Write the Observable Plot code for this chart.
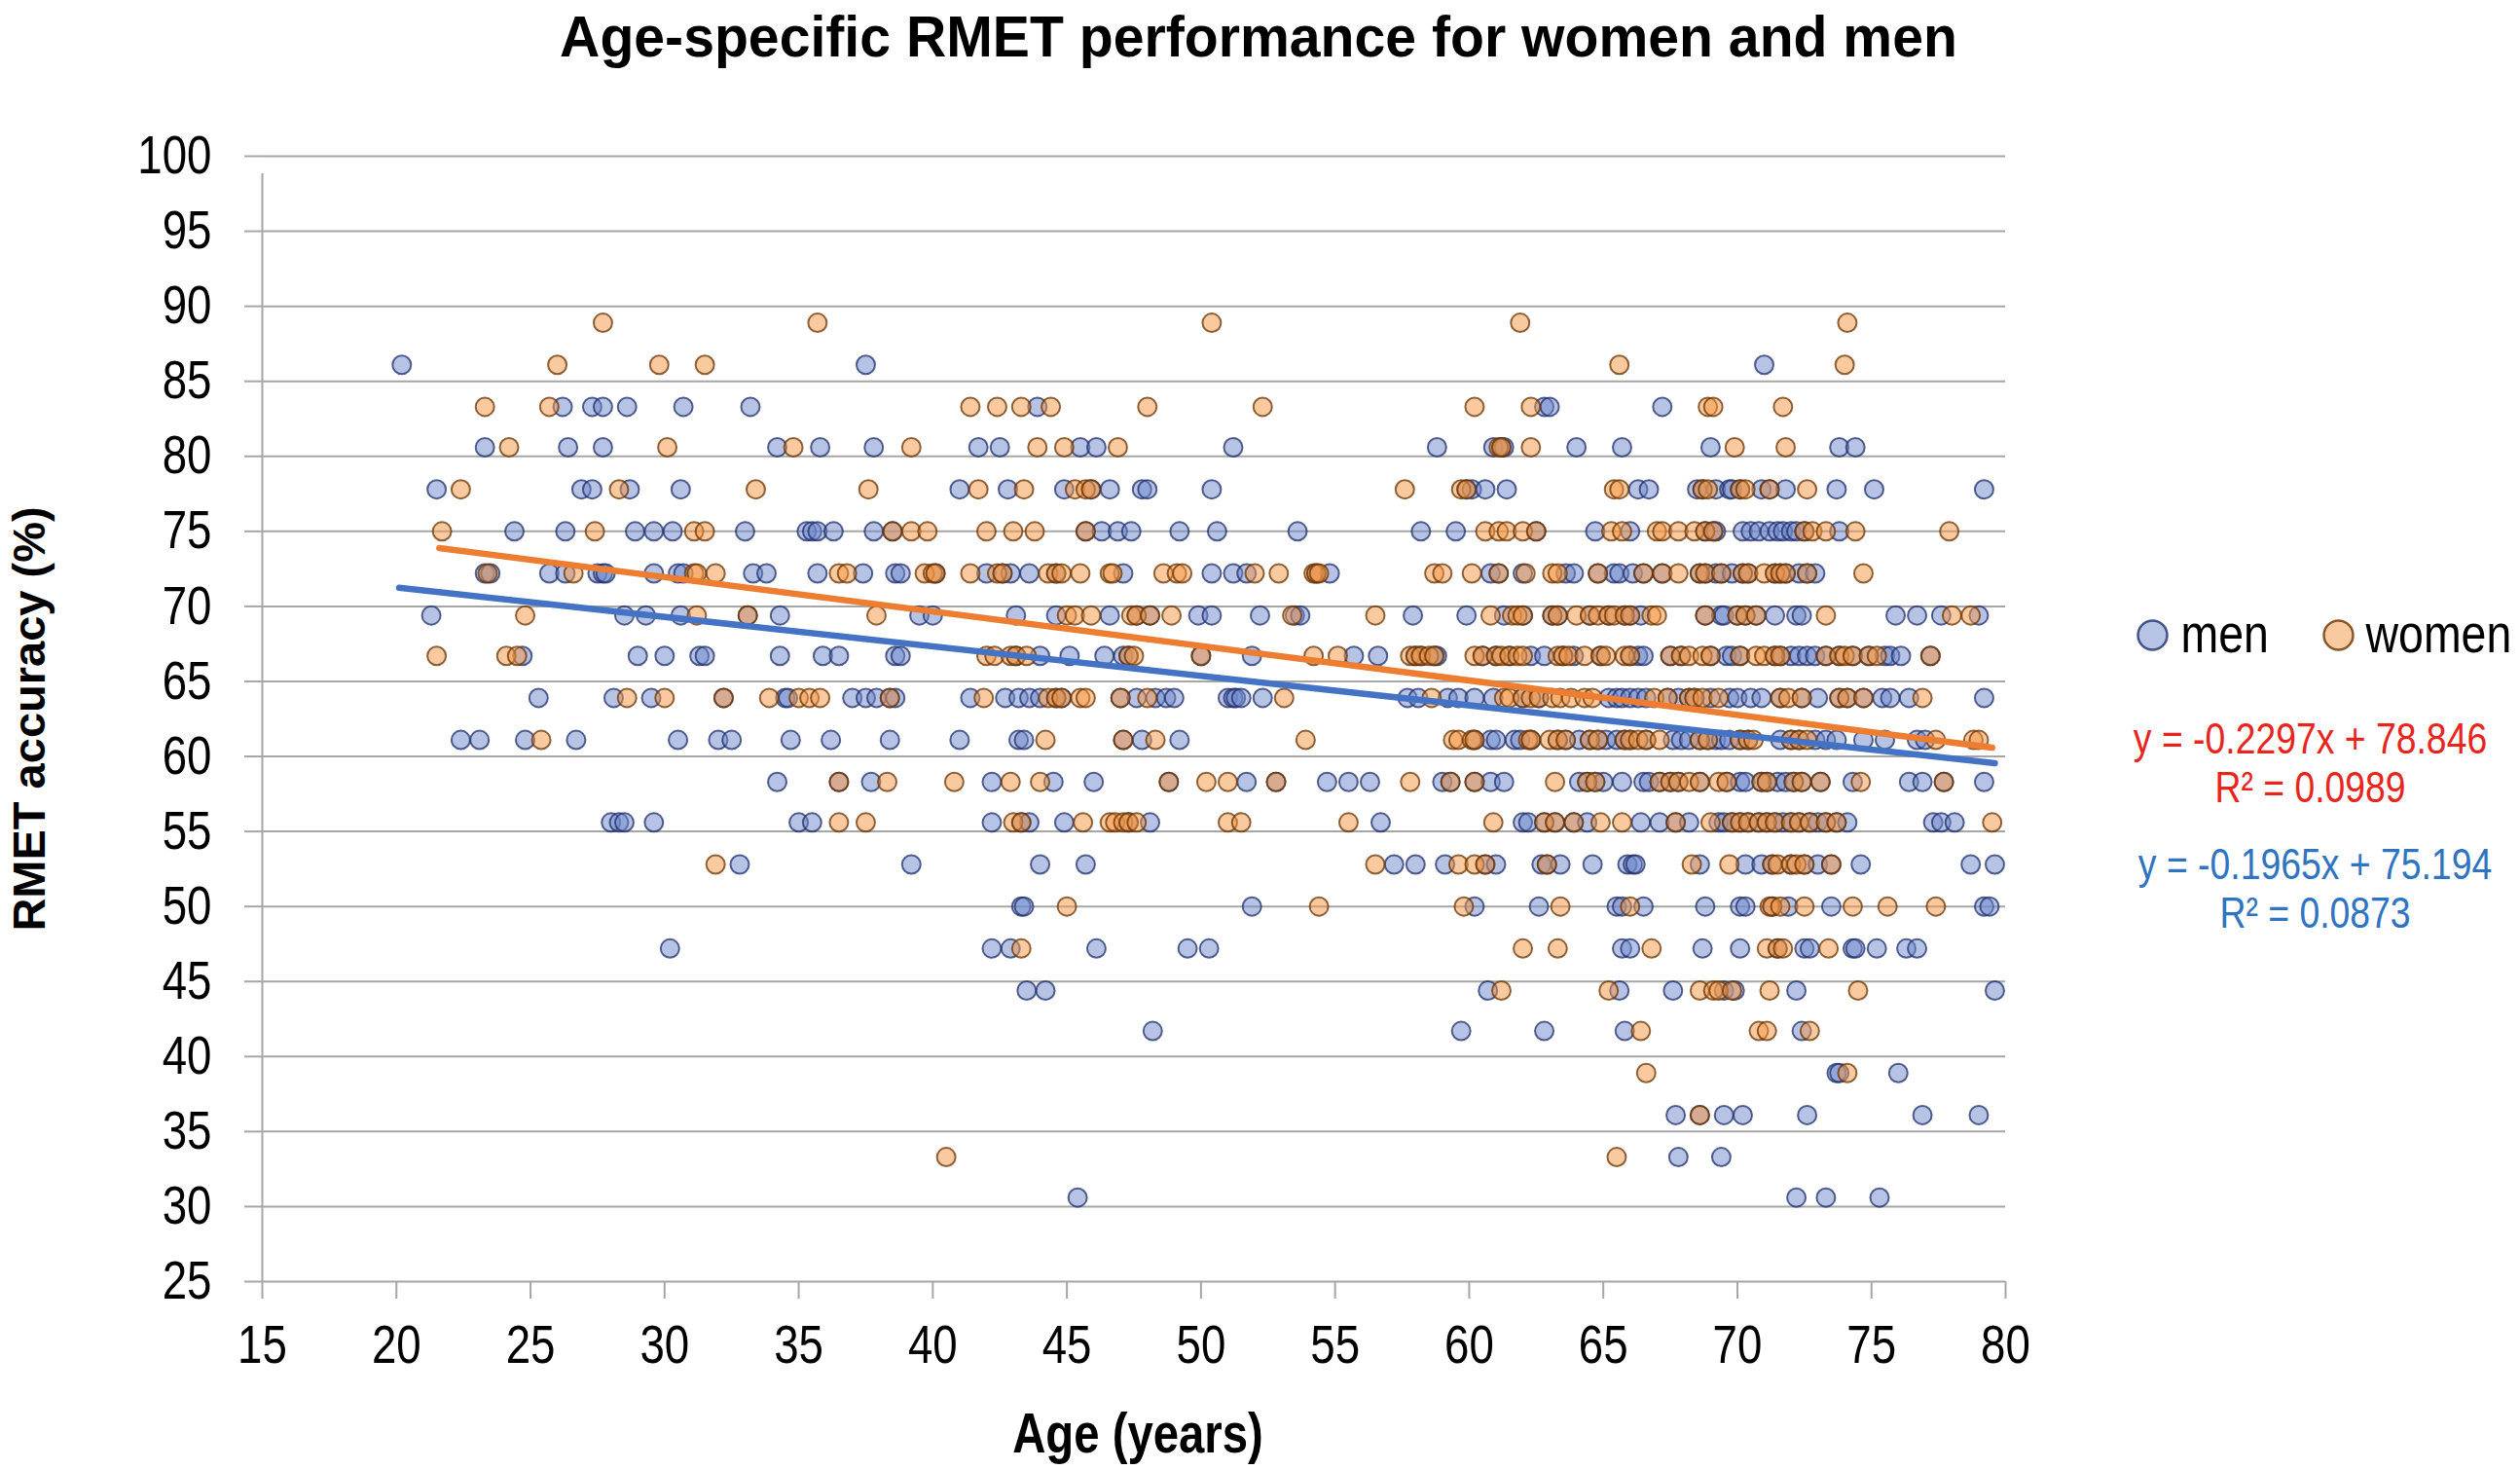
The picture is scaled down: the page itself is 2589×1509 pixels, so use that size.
<!DOCTYPE html>
<html>
<head>
<meta charset="utf-8">
<script src="https://cdn.jsdelivr.net/npm/d3@7"></script>
<script src="https://cdn.jsdelivr.net/npm/@observablehq/plot@0.6"></script>
<style>
  html, body { margin: 0; padding: 0; background: #fff; }
  #chart svg { display: block; }
</style>
</head>
<body>
<div id="chart"></div>
<script>
// RMET accuracy levels (36 items → steps of 2.78 %)
const accLevels = [88.9, 86.1, 83.3, 80.6, 77.8, 75.0, 72.2, 69.4, 66.7, 63.9, 61.1, 58.3, 55.6, 52.8, 50.0, 47.2, 44.4, 41.7, 38.9, 36.1, 33.3, 30.6];

// ages of men at each accuracy level (same order as accLevels)
const menAgesByLevel = [
  [],
  [20.2, 37.5, 71.0],
  [26.2, 27.3, 27.7, 28.6, 30.7, 33.2, 43.9, 62.8, 63.0, 67.2],
  [23.3, 26.4, 27.7, 34.2, 35.8, 37.8, 41.7, 42.5, 45.5, 46.1, 51.2, 58.8, 60.9, 61.2, 61.3, 64.0, 65.7, 69.0, 73.8, 74.4],
  [21.5, 26.9, 27.3, 28.7, 30.6, 41.0, 42.8, 44.9, 45.9, 46.6, 47.8, 48.0, 50.4, 59.9, 60.1, 60.6, 61.4, 66.3, 66.7, 68.5, 68.7, 69.2, 69.7, 69.8, 70.1, 70.9, 71.2, 71.8, 73.7, 75.1, 79.2],
  [24.4, 26.3, 28.9, 29.6, 30.3, 33.0, 35.3, 35.5, 35.7, 36.3, 37.8, 38.5, 45.7, 46.3, 46.9, 47.4, 49.2, 50.6, 53.6, 58.2, 59.5, 62.5, 64.7, 66.0, 68.8, 69.1, 69.2, 70.2, 70.5, 70.8, 71.2, 71.5, 71.7, 72.0, 72.2, 72.5, 73.8],
  [23.3, 23.5, 25.7, 26.3, 27.5, 27.7, 27.8, 29.6, 30.5, 30.7, 33.3, 33.8, 35.7, 37.4, 38.6, 38.8, 40.1, 42.0, 42.6, 42.9, 43.6, 44.6, 47.1, 50.4, 51.2, 51.7, 54.3, 54.8, 60.8, 61.1, 62.0, 63.6, 63.9, 64.8, 65.4, 65.6, 66.1, 66.5, 67.2, 68.6, 68.8, 69.2, 69.4, 69.8, 70.2, 70.4, 71.4, 71.6, 71.8, 72.3, 72.6, 72.9],
  [21.3, 28.5, 29.3, 30.6, 33.1, 34.3, 39.5, 40.0, 43.1, 44.6, 46.6, 47.6, 48.1, 49.9, 50.4, 52.2, 53.5, 53.7, 57.9, 59.9, 61.3, 62.0, 63.1, 63.3, 64.5, 65.2, 65.8, 66.0, 66.4, 68.8, 69.4, 69.5, 70.0, 70.3, 70.7, 71.4, 72.2, 72.4, 75.9, 76.7, 77.6, 79.0],
  [24.7, 29.0, 30.0, 31.3, 31.5, 34.3, 35.9, 36.5, 38.6, 38.8, 43.1, 44.0, 45.1, 46.4, 47.1, 47.3, 50.0, 51.9, 55.7, 56.6, 58.0, 58.2, 58.7, 58.8, 60.5, 61.0, 61.5, 62.3, 62.8, 63.5, 63.9, 64.9, 66.0, 66.3, 66.5, 67.5, 67.9, 69.0, 69.6, 69.8, 70.1, 71.4, 71.6, 72.0, 72.3, 72.6, 72.9, 73.3, 73.8, 74.3, 74.9, 75.5, 75.7, 76.1, 77.2],
  [25.3, 28.1, 29.5, 32.2, 34.5, 34.6, 37.0, 37.5, 37.9, 38.4, 38.6, 41.4, 42.7, 43.2, 43.6, 44.0, 44.6, 44.8, 47.0, 47.6, 48.3, 48.7, 49.0, 51.0, 51.2, 51.3, 51.5, 52.3, 57.7, 58.1, 59.2, 59.6, 60.2, 60.9, 62.0, 62.6, 65.2, 65.5, 65.7, 66.0, 66.3, 66.6, 67.4, 67.8, 68.2, 68.4, 69.0, 69.7, 70.0, 70.5, 70.9, 71.6, 72.4, 73.0, 73.8, 74.1, 74.7, 75.4, 75.7, 76.4, 79.2],
  [22.4, 23.1, 24.8, 26.7, 30.5, 32.0, 32.5, 34.7, 36.2, 38.4, 41.0, 43.2, 43.4, 47.1, 47.8, 49.2, 60.2, 60.8, 61.0, 61.7, 61.9, 62.3, 63.3, 63.6, 64.1, 64.5, 64.8, 65.1, 65.5, 65.8, 66.0, 66.6, 67.6, 67.9, 68.2, 68.6, 68.9, 69.2, 69.4, 69.7, 70.1, 70.4, 71.6, 72.0, 72.3, 72.9, 73.3, 73.7, 74.7, 75.5, 76.7, 77.0],
  [34.2, 36.5, 37.7, 42.2, 44.5, 46.0, 48.8, 51.7, 52.8, 54.7, 55.5, 56.3, 59.0, 59.3, 60.2, 60.8, 61.3, 64.1, 64.4, 64.7, 65.0, 65.7, 66.5, 66.7, 67.1, 67.5, 67.8, 68.6, 69.6, 70.1, 70.3, 70.9, 71.1, 71.5, 71.8, 72.1, 72.4, 73.1, 74.3, 76.4, 76.9, 77.7, 79.2],
  [28.0, 28.3, 28.5, 29.6, 35.0, 35.5, 42.2, 43.3, 43.6, 44.9, 47.3, 48.1, 56.7, 62.0, 62.2, 62.8, 63.2, 63.9, 64.4, 66.4, 67.1, 67.7, 68.2, 69.3, 69.5, 69.8, 70.1, 70.4, 70.8, 71.1, 71.4, 71.7, 72.0, 72.3, 72.7, 73.0, 73.3, 73.7, 74.1, 77.3, 77.6, 78.1],
  [32.8, 39.2, 44.0, 45.7, 57.2, 58.0, 59.1, 60.6, 61.0, 62.7, 62.9, 63.4, 64.6, 65.9, 66.1, 66.2, 68.6, 70.3, 70.9, 71.3, 72.0, 72.5, 73.0, 73.5, 74.6, 78.7, 79.6],
  [43.3, 43.4, 51.9, 60.2, 62.6, 65.5, 65.7, 66.5, 68.8, 70.1, 70.3, 71.3, 71.9, 73.5, 79.2, 79.4],
  [30.2, 42.2, 42.9, 46.1, 49.5, 50.3, 65.7, 66.0, 68.7, 70.1, 71.5, 72.5, 72.7, 74.3, 74.4, 75.2, 76.3, 76.7],
  [43.5, 44.2, 60.7, 65.6, 67.6, 69.5, 69.9, 72.2, 79.6],
  [48.2, 59.7, 62.8, 65.8, 72.4],
  [73.7, 73.8, 76.0],
  [67.7, 68.6, 69.5, 70.2, 72.6, 76.9, 79.0],
  [67.8, 69.4],
  [45.4, 72.2, 73.3, 75.3]
];

// ages of women at each accuracy level (same order as accLevels)
const womenAgesByLevel = [
  [27.7, 35.7, 50.4, 61.9, 74.1],
  [26.0, 29.8, 31.5, 65.6, 74.0],
  [23.3, 25.7, 41.4, 42.4, 43.3, 44.4, 48.0, 52.3, 60.2, 62.3, 68.9, 69.1, 71.7],
  [24.2, 30.1, 34.8, 39.2, 43.9, 44.9, 46.9, 61.1, 61.2, 62.3, 69.9, 71.8],
  [22.4, 28.3, 33.4, 37.6, 41.7, 43.4, 45.3, 45.7, 45.9, 57.6, 59.7, 59.9, 65.4, 65.6, 68.7, 68.9, 70.1, 70.3, 71.2, 72.6],
  [21.7, 27.4, 31.1, 31.5, 38.5, 39.2, 39.8, 42.0, 43.0, 43.8, 45.7, 60.6, 61.1, 61.4, 62.0, 62.5, 65.3, 65.7, 67.0, 67.2, 67.8, 68.4, 68.8, 69.1, 72.5, 72.8, 73.3, 74.4, 77.9],
  [23.4, 26.6, 31.1, 31.2, 31.9, 36.5, 36.8, 39.7, 40.0, 40.1, 41.4, 42.4, 42.6, 44.3, 44.6, 44.8, 45.5, 46.6, 46.7, 48.6, 49.1, 49.3, 52.0, 52.9, 54.2, 54.3, 54.4, 58.7, 59.0, 60.1, 61.1, 62.1, 63.1, 63.3, 64.8, 66.5, 67.2, 67.8, 68.6, 68.8, 69.4, 70.2, 70.4, 71.0, 71.4, 71.6, 71.8, 72.6, 74.7],
  [24.8, 31.2, 33.1, 37.9, 45.0, 45.3, 45.9, 47.4, 47.6, 48.1, 48.9, 53.4, 56.5, 60.8, 61.6, 61.8, 62.0, 63.1, 63.3, 64.0, 64.5, 64.8, 65.2, 65.4, 65.8, 66.0, 66.8, 67.0, 68.8, 70.0, 70.3, 70.7, 73.3, 78.0, 78.7],
  [21.5, 24.1, 24.5, 42.0, 42.3, 42.9, 43.1, 43.5, 47.3, 47.5, 50.0, 54.2, 55.1, 57.8, 58.0, 58.2, 58.5, 58.7, 60.2, 60.5, 61.0, 61.2, 61.5, 61.8, 62.0, 63.3, 63.5, 63.7, 64.3, 64.9, 65.1, 65.8, 66.0, 67.5, 67.9, 68.2, 68.7, 69.0, 70.1, 70.7, 71.0, 71.4, 71.6, 73.3, 73.8, 74.0, 74.3, 74.9, 75.2, 77.2],
  [28.6, 30.0, 32.2, 33.9, 35.0, 35.4, 35.8, 38.4, 41.9, 44.3, 44.6, 44.8, 45.5, 45.7, 47.0, 48.0, 53.1, 58.6, 61.3, 61.5, 62.0, 62.3, 62.6, 63.1, 63.4, 63.8, 64.3, 64.6, 66.9, 67.4, 68.2, 68.4, 68.7, 69.3, 71.6, 71.9, 72.4, 73.8, 74.1, 74.7, 76.9],
  [25.4, 44.2, 47.1, 48.3, 53.9, 59.4, 59.6, 60.1, 60.2, 62.2, 62.3, 63.0, 63.3, 63.6, 64.5, 64.8, 65.8, 66.0, 66.3, 66.6, 67.1, 68.6, 68.9, 70.1, 70.4, 70.6, 72.0, 72.3, 72.6, 77.4, 78.8, 79.0],
  [36.5, 38.3, 40.8, 42.9, 44.0, 48.8, 50.2, 51.0, 52.8, 57.8, 59.3, 60.2, 63.2, 64.4, 64.7, 67.1, 67.5, 67.8, 68.2, 68.6, 69.3, 69.6, 70.9, 71.1, 72.1, 72.4, 73.1, 74.6, 77.7],
  [36.5, 37.5, 43.0, 43.3, 45.6, 46.6, 46.8, 47.1, 47.3, 47.6, 51.0, 51.5, 55.5, 60.9, 62.8, 63.2, 63.9, 64.9, 65.7, 67.7, 69.0, 69.8, 70.1, 70.4, 70.8, 71.1, 71.4, 72.0, 72.3, 72.7, 73.3, 73.7, 79.5],
  [31.9, 56.5, 59.6, 60.2, 60.6, 62.9, 68.3, 69.7, 71.3, 71.5, 72.0, 72.2, 72.5, 73.5],
  [45.0, 54.4, 59.8, 63.4, 66.0, 71.2, 71.3, 71.6, 72.5, 74.3, 75.6, 77.4],
  [43.3, 62.0, 63.3, 66.8, 71.1, 71.5, 71.7, 73.4],
  [61.2, 65.2, 68.6, 69.1, 69.3, 69.8, 71.2, 74.5],
  [66.4, 70.8, 71.1, 72.7],
  [66.6, 74.1],
  [68.6],
  [40.5, 65.5],
  []
];

// linear trend lines as printed on the chart
const trendSeries = ["women", "men"];
const trendSlope = [-0.2297, -0.1965];
const trendIntercept = [78.846, 75.194];
const trendStart = [21.6, 20.1];
const trendEnd = [79.5, 79.6];
const trendEquation = ["y = -0.2297x + 78.846", "y = -0.1965x + 75.194"];
const trendR2 = ["R² = 0.0989", "R² = 0.0873"];

const TITLE = "Age-specific RMET performance for women and men";
const XLABEL = "Age (years)";
const YLABEL = "RMET accuracy (%)";
const xTicks = d3.range(15, 81, 5);
const yTicks = d3.range(25, 101, 5);

// ---- build tables ----
function flatten(byLevel, sex) {
  const out = [];
  byLevel.forEach((ages, i) => ages.forEach(a => out.push({sex, age: a, acc: accLevels[i]})));
  return out;
}
const men = flatten(menAgesByLevel, "men");
const women = flatten(womenAgesByLevel, "women");
const trends = [];
trendSeries.forEach((s, i) => {
  [trendStart[i], trendEnd[i]].forEach(x => trends.push({sex: s, age: x, acc: trendSlope[i] * x + trendIntercept[i]}));
});

const SANS = "'Liberation Sans', Arial, sans-serif";
const GRID = "#a6a6a6";
const menFill = "#6e87cc", menStroke = "#1f2f6b";
const womenFill = "#f39541", womenStroke = "#6b3300";
const mid = {lineAnchor: "middle"};

const chart = Plot.plot({
  width: 2589,
  height: 1509,
  marginLeft: 269,
  marginRight: 529,
  marginTop: 160,
  marginBottom: 193,
  style: {fontFamily: SANS, fontSize: "55px", color: "#000", background: "#fff"},
  x: {domain: [15, 80], ticks: xTicks},
  y: {domain: [25, 100], ticks: yTicks},
  marks: [
    Plot.gridY(yTicks, {stroke: GRID, strokeOpacity: 1, strokeWidth: 2, x1: 15, x2: 80}),
    Plot.ruleX([15], {y1: 25, y2: 100, stroke: GRID, strokeWidth: 2, insetBottom: -18}),
    Plot.axisX(xTicks, {tickSize: 18, tickPadding: 26, stroke: GRID, strokeWidth: 2, fill: "#000", fontSize: 55, label: null}),
    Plot.axisY(yTicks, {tickSize: 18, tickPadding: 34, stroke: GRID, strokeWidth: 2, fill: "#000", fontSize: 55, label: null}),
    Plot.dot(men, {x: "age", y: "acc", r: 9.5, fill: menFill, fillOpacity: 0.5, stroke: menStroke, strokeOpacity: 0.75, strokeWidth: 2}),
    Plot.dot(women, {x: "age", y: "acc", r: 9.5, fill: womenFill, fillOpacity: 0.5, stroke: womenStroke, strokeOpacity: 0.75, strokeWidth: 2}),
    Plot.line(trends, {x: "age", y: "acc", z: "sex", stroke: d => d.sex === "women" ? "#ed7d31" : "#4472c4", strokeWidth: 6.5}),
    // title
    Plot.text([TITLE], {...mid, frameAnchor: "top", textAnchor: "middle", dx: 128, dy: -122, fontSize: 60, fontWeight: "bold"}),
    // axis labels
    Plot.text([XLABEL], {...mid, frameAnchor: "bottom", textAnchor: "middle", dx: 4, dy: 157, fontSize: 57, fontWeight: "bold"}),
    Plot.text([YLABEL], {...mid, frameAnchor: "left", textAnchor: "middle", dx: -239, rotate: -90, fontSize: 47, fontWeight: "bold"}),
    // legend
    Plot.dot(["men"], {frameAnchor: "top-right", dx: 151, dy: 492, r: 15, fill: menFill, fillOpacity: 0.5, stroke: menStroke, strokeOpacity: 0.8, strokeWidth: 2.5}),
    Plot.dot(["women"], {frameAnchor: "top-right", dx: 342, dy: 492, r: 15, fill: womenFill, fillOpacity: 0.5, stroke: womenStroke, strokeOpacity: 0.8, strokeWidth: 2.5}),
    Plot.text(["men"], {...mid, frameAnchor: "top-right", dx: 180, dy: 492, textAnchor: "start", fontSize: 56}),
    Plot.text(["women"], {...mid, frameAnchor: "top-right", dx: 370, dy: 492, textAnchor: "start", fontSize: 56}),
    // trend equations
    Plot.text([trendEquation[0]], {...mid, frameAnchor: "top-right", textAnchor: "middle", dx: 313, dy: 599, fontSize: 45, fill: "#e8251c"}),
    Plot.text([trendR2[0]], {...mid, frameAnchor: "top-right", textAnchor: "middle", dx: 313, dy: 649, fontSize: 45, fill: "#e8251c"}),
    Plot.text([trendEquation[1]], {...mid, frameAnchor: "top-right", textAnchor: "middle", dx: 318, dy: 728, fontSize: 45, fill: "#2e74c0"}),
    Plot.text([trendR2[1]], {...mid, frameAnchor: "top-right", textAnchor: "middle", dx: 318, dy: 778, fontSize: 45, fill: "#2e74c0"})
  ]
});

// emulate the condensed (Arial Narrow-like) face: squeeze text horizontally around its anchor
chart.querySelectorAll("text").forEach(t => {
  const txt = t.textContent;
  const s = txt === YLABEL ? 1 : txt === TITLE ? 0.953 : 0.83;
  if (s === 1) return;
  const x0 = +t.getAttribute("x") || 0, y0 = +t.getAttribute("y") || 0;
  const tr = t.getAttribute("transform") || "";
  t.setAttribute("transform", `${tr} translate(${x0},${y0}) scale(${s},1) translate(${-x0},${-y0})`);
});

document.getElementById("chart").appendChild(chart);
</script>
</body>
</html>
